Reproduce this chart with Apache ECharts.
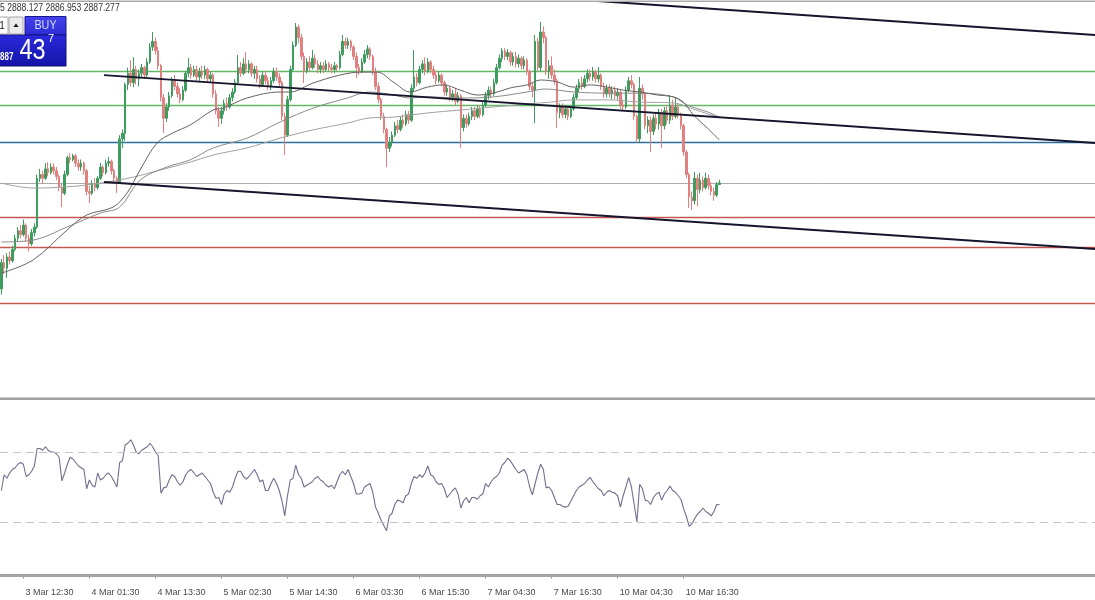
<!DOCTYPE html>
<html><head><meta charset="utf-8">
<script src="https://cdn.jsdelivr.net/npm/echarts@6.0.0/dist/echarts.min.js"></script>
<style>html,body{margin:0;padding:0;background:#fff}#c{width:1095px;height:600px}</style>
</head><body><div id="c"></div>
<script>
// ---------- DATA ----------
const tickLabels = ["3 Mar 12:30","4 Mar 01:30","4 Mar 13:30","5 Mar 02:30","5 Mar 14:30","6 Mar 03:30","6 Mar 15:30","7 Mar 04:30","7 Mar 16:30","10 Mar 04:30","10 Mar 16:30"];
const tickBars = [8,32,56,80,104,128,152,176,200,224,248];
const slotCount = 398; // visible bar slots incl. chart shift

// [open, close, low, high] per M30 bar
const ohlc = [
[2859.0,2866.0,2857.5,2867.0],[2866.0,2864.5,2863.0,2868.0],[2864.5,2867.5,2862.0,2868.5],[2867.5,2866.5,2865.5,2869.0],
[2866.5,2869.5,2866.0,2870.5],[2869.5,2872.5,2869.0,2873.5],[2872.5,2874.5,2871.5,2875.5],[2874.5,2873.5,2872.5,2876.0],
[2873.5,2876.0,2873.0,2877.5],[2876.0,2872.5,2871.5,2876.5],[2872.5,2871.0,2869.0,2873.5],[2871.0,2874.0,2870.5,2875.0],
[2874.0,2875.5,2873.0,2876.5],[2875.5,2888.5,2875.0,2889.5],[2888.5,2889.5,2887.5,2891.0],[2889.5,2888.5,2887.0,2890.5],
[2888.5,2891.0,2888.0,2892.5],[2891.0,2890.0,2889.0,2892.8],[2890.0,2891.5,2889.5,2892.5],[2891.5,2890.5,2889.5,2892.5],
[2890.5,2889.0,2888.0,2891.5],[2889.0,2886.0,2885.0,2889.5],[2886.0,2884.5,2880.8,2887.0],[2884.5,2889.5,2884.0,2890.5],
[2889.5,2894.0,2889.0,2894.5],[2894.0,2893.5,2892.5,2895.2],[2893.5,2894.5,2893.0,2895.0],[2894.5,2892.5,2891.5,2895.0],
[2892.5,2891.5,2890.5,2893.5],[2891.5,2892.5,2890.5,2893.5],[2892.5,2890.5,2889.5,2893.0],[2890.5,2885.0,2884.0,2891.0],
[2885.0,2884.5,2881.9,2886.5],[2884.5,2887.0,2884.0,2888.0],[2887.0,2886.0,2885.0,2888.5],[2886.0,2888.5,2885.5,2889.0],
[2888.5,2891.5,2888.0,2892.6],[2891.5,2890.0,2889.0,2892.0],[2890.0,2892.5,2889.5,2893.5],[2892.5,2893.0,2891.5,2894.2],
[2893.0,2890.5,2889.5,2893.5],[2890.5,2888.5,2887.5,2891.0],[2888.5,2887.5,2884.6,2889.0],[2887.5,2899.0,2887.0,2900.0],
[2899.0,2900.5,2896.6,2901.5],[2900.5,2913.5,2898.5,2914.0],[2913.5,2916.5,2912.0,2918.0],[2916.5,2914.0,2913.0,2920.0],
[2914.0,2917.5,2912.8,2920.8],[2917.5,2915.0,2913.5,2918.5],[2915.0,2916.5,2913.0,2917.5],[2916.5,2918.0,2915.5,2919.0],
[2918.0,2916.0,2915.0,2918.5],[2916.0,2919.5,2915.5,2920.5],[2919.5,2923.5,2919.0,2924.5],[2923.5,2925.0,2922.5,2927.5],
[2925.0,2922.5,2921.5,2926.0],[2922.5,2918.5,2917.5,2923.5],[2918.5,2910.0,2909.0,2919.0],[2910.0,2904.5,2900.6,2911.0],
[2904.5,2907.5,2903.5,2908.5],[2907.5,2910.5,2906.5,2911.5],[2910.5,2914.5,2910.0,2915.5],[2914.5,2913.0,2912.0,2916.0],
[2913.0,2911.0,2910.0,2914.0],[2911.0,2909.5,2908.5,2912.5],[2909.5,2912.0,2909.0,2913.0],[2912.0,2916.5,2911.5,2917.0],
[2916.5,2918.0,2915.5,2920.6],[2918.0,2916.0,2915.0,2919.0],[2916.0,2917.5,2915.5,2918.5],[2917.5,2915.5,2914.5,2918.5],
[2915.5,2917.0,2914.5,2918.0],[2917.0,2916.0,2915.0,2918.5],[2916.0,2917.5,2915.0,2918.5],[2917.5,2915.0,2914.0,2918.0],
[2915.0,2916.0,2914.0,2917.0],[2916.0,2911.0,2910.0,2916.5],[2911.0,2906.5,2905.5,2912.0],[2906.5,2904.5,2902.2,2907.5],
[2904.5,2906.5,2903.0,2907.5],[2906.5,2908.5,2905.5,2909.5],[2908.5,2907.5,2906.5,2910.0],[2907.5,2910.0,2907.0,2911.0],
[2910.0,2911.5,2909.0,2912.5],[2911.5,2914.0,2911.0,2915.0],[2914.0,2918.0,2913.5,2921.4],[2918.0,2916.5,2915.5,2919.5],
[2916.5,2919.0,2916.0,2920.5],[2919.0,2917.5,2916.5,2922.2],[2917.5,2919.0,2916.5,2920.0],[2919.0,2916.5,2915.5,2919.5],
[2916.5,2917.5,2915.0,2918.5],[2917.5,2915.0,2914.0,2918.5],[2915.0,2913.5,2912.5,2916.0],[2913.5,2916.0,2913.0,2917.0],
[2916.0,2914.5,2913.5,2917.0],[2914.5,2913.0,2912.0,2915.5],[2913.0,2914.5,2912.0,2915.5],[2914.5,2917.0,2914.0,2918.0],
[2917.0,2915.5,2914.5,2918.0],[2915.5,2914.0,2913.0,2916.5],[2914.0,2905.0,2904.0,2914.5],[2905.0,2900.0,2894.7,2906.0],
[2900.0,2909.5,2899.5,2910.5],[2909.5,2917.5,2909.0,2918.5],[2917.5,2924.0,2917.0,2925.0],[2924.0,2928.8,2923.5,2929.9],
[2928.8,2926.0,2924.5,2929.5],[2926.0,2921.0,2920.0,2927.0],[2921.0,2917.0,2913.9,2922.0],[2917.0,2919.5,2916.5,2920.5],
[2919.5,2918.0,2917.0,2921.0],[2918.0,2920.5,2917.5,2922.7],[2920.5,2919.0,2918.0,2921.5],[2919.0,2917.5,2916.5,2920.0],
[2917.5,2918.5,2916.5,2919.5],[2918.5,2917.5,2916.5,2919.5],[2917.5,2919.0,2917.0,2920.0],[2919.0,2918.0,2917.0,2919.5],
[2918.0,2917.5,2916.5,2919.0],[2917.5,2918.5,2916.5,2919.5],[2918.5,2918.0,2917.0,2919.0],[2918.0,2921.5,2917.5,2922.5],
[2921.5,2925.0,2921.0,2926.7],[2925.0,2924.0,2923.0,2926.0],[2924.0,2925.0,2923.0,2926.0],[2925.0,2923.5,2922.5,2925.5],
[2923.5,2921.0,2920.0,2924.0],[2921.0,2918.0,2915.2,2922.0],[2918.0,2917.0,2916.0,2919.0],[2917.0,2919.5,2916.5,2920.5],
[2919.5,2921.5,2919.0,2922.7],[2921.5,2923.0,2920.5,2924.0],[2923.0,2921.0,2920.0,2923.5],[2921.0,2917.0,2916.0,2921.5],
[2917.0,2913.0,2912.0,2918.0],[2913.0,2909.5,2908.5,2914.0],[2909.5,2905.0,2904.0,2910.0],[2905.0,2901.5,2900.5,2906.0],
[2901.5,2896.5,2891.5,2902.0],[2896.5,2898.0,2895.5,2899.5],[2898.0,2900.0,2897.0,2901.0],[2900.0,2902.5,2899.5,2903.5],
[2902.5,2901.5,2900.5,2904.0],[2901.5,2904.0,2901.0,2905.0],[2904.0,2903.0,2902.0,2905.5],[2903.0,2905.5,2902.5,2906.5],
[2905.5,2904.0,2903.0,2906.5],[2904.0,2912.5,2903.5,2913.5],[2912.5,2915.5,2911.5,2922.7],[2915.5,2914.0,2913.0,2916.5],
[2914.0,2917.5,2913.5,2918.5],[2917.5,2919.0,2916.5,2920.0],[2919.0,2917.0,2916.0,2920.8],[2917.0,2919.5,2916.5,2920.5],
[2919.5,2917.5,2916.5,2920.0],[2917.5,2916.0,2915.0,2918.5],[2916.0,2914.5,2913.5,2917.0],[2914.5,2916.0,2914.0,2917.0],
[2916.0,2914.0,2913.0,2916.5],[2914.0,2911.5,2910.5,2914.5],[2911.5,2912.5,2910.5,2913.5],[2912.5,2910.0,2909.0,2913.0],
[2910.0,2911.0,2909.0,2912.0],[2911.0,2909.0,2908.0,2912.5],[2909.0,2910.5,2908.5,2911.5],[2910.5,2902.0,2896.6,2911.0],
[2902.0,2904.5,2901.0,2905.5],[2904.5,2903.0,2902.0,2905.5],[2903.0,2905.0,2902.5,2906.0],[2905.0,2906.5,2904.0,2907.5],
[2906.5,2905.0,2904.0,2907.5],[2905.0,2907.0,2904.5,2908.0],[2907.0,2905.5,2904.5,2908.0],[2905.5,2908.0,2905.0,2909.0],
[2908.0,2910.5,2907.5,2911.5],[2910.5,2912.0,2909.5,2913.0],[2912.0,2911.0,2910.0,2913.0],[2911.0,2914.0,2910.5,2915.0],
[2914.0,2918.0,2913.5,2919.0],[2918.0,2920.5,2917.5,2921.5],[2920.5,2922.5,2919.5,2923.2],[2922.5,2921.0,2920.0,2923.2],
[2921.0,2922.0,2920.0,2923.0],[2922.0,2919.5,2918.5,2922.5],[2919.5,2921.0,2918.5,2922.0],[2921.0,2919.0,2918.0,2922.2],
[2919.0,2920.5,2918.0,2921.5],[2920.5,2918.5,2917.5,2921.0],[2918.5,2920.0,2917.5,2921.0],[2920.0,2917.0,2916.0,2920.5],
[2917.0,2913.0,2912.0,2917.5],[2913.0,2912.0,2910.0,2914.0],[2912.0,2925.0,2903.2,2926.7],[2925.0,2918.0,2917.0,2926.0],
[2918.0,2927.5,2917.0,2930.2],[2927.5,2926.0,2924.5,2929.0],[2926.0,2917.0,2916.0,2926.5],[2917.0,2918.5,2915.0,2920.0],
[2918.5,2916.0,2915.0,2921.0],[2916.0,2914.5,2913.5,2917.5],[2914.5,2906.0,2901.9,2915.0],[2906.0,2907.5,2904.5,2908.5],
[2907.5,2905.5,2904.5,2908.5],[2905.5,2907.0,2904.5,2908.0],[2907.0,2905.0,2904.0,2908.0],[2905.0,2907.0,2904.5,2908.0],
[2907.0,2910.0,2906.5,2911.0],[2910.0,2912.5,2909.5,2913.5],[2912.5,2914.0,2911.5,2915.0],[2914.0,2913.0,2912.0,2915.5],
[2913.0,2915.0,2912.5,2916.0],[2915.0,2916.5,2914.0,2917.5],[2916.5,2915.5,2914.5,2917.5],[2915.5,2917.0,2914.5,2918.2],
[2917.0,2915.0,2914.0,2917.5],[2915.0,2916.0,2914.0,2918.2],[2916.0,2913.0,2912.0,2916.5],[2913.0,2911.0,2910.0,2914.0],
[2911.0,2912.5,2910.0,2913.5],[2912.5,2911.0,2910.0,2913.5],[2911.0,2912.0,2909.5,2913.0],[2912.0,2910.5,2909.5,2913.0],
[2910.5,2911.5,2909.5,2912.5],[2911.5,2908.0,2907.0,2912.0],[2908.0,2907.5,2906.5,2909.5],[2907.5,2912.0,2907.0,2913.0],
[2912.0,2914.5,2911.5,2915.5],[2914.5,2913.5,2912.5,2916.0],[2913.5,2905.0,2904.0,2914.0],[2905.0,2899.0,2898.0,2905.5],
[2899.0,2912.5,2898.0,2915.5],[2912.5,2911.0,2909.5,2913.5],[2911.0,2902.5,2901.5,2911.5],[2902.5,2904.0,2900.5,2905.0],
[2904.0,2901.0,2895.5,2905.0],[2901.0,2904.5,2900.0,2905.5],[2904.5,2903.0,2901.5,2906.0],[2903.0,2906.0,2901.5,2907.0],
[2906.0,2902.5,2896.5,2907.0],[2902.5,2906.5,2901.5,2907.5],[2906.5,2904.0,2903.0,2908.0],[2904.0,2908.0,2903.0,2910.7],
[2908.0,2905.0,2904.0,2909.5],[2905.0,2907.5,2904.5,2910.0],[2907.5,2905.5,2904.5,2908.5],[2905.5,2902.5,2901.5,2906.0],
[2902.5,2895.5,2894.5,2903.0],[2895.5,2889.5,2888.5,2896.0],[2889.5,2883.5,2880.6,2890.0],[2883.5,2882.5,2880.0,2885.0],
[2882.5,2888.5,2881.5,2890.2],[2888.5,2885.5,2881.0,2889.5],[2885.5,2888.0,2884.5,2890.0],[2888.0,2886.0,2885.0,2889.0],
[2886.0,2888.5,2885.5,2890.0],[2888.5,2886.5,2885.5,2889.5],[2886.5,2885.0,2884.0,2887.5],[2885.0,2884.0,2882.5,2886.0],
[2884.0,2886.8,2883.5,2887.5],[2886.8,2887.277,2886.953,2888.127]
];

// moving averages: [bar index, price]
const maFast = [[0,2863.2],[11.5,2866.7],[23.9,2874.7],[31,2878.7],[40.6,2880.8],[45.7,2884.6],[50.4,2890.7],[56.6,2897.9],[62.4,2900.6],[68.6,2902.7],[77,2906.7],[80.6,2907.2],[89.3,2909.9],[101.3,2911.5],[105,2911.5],[113.3,2913.9],[123,2916.0],[130.4,2916.8],[136.6,2916.8],[142.4,2914.2],[148.6,2911.5],[154.8,2912.8],[160.6,2913.4],[166.8,2912.0],[173,2910.7],[178.8,2911.2],[185,2912.6],[191.1,2913.4],[195.9,2914.7],[202,2914.2],[207.9,2912.8],[214,2913.4],[220.2,2912.8],[226,2912.0],[232.2,2911.5],[238.4,2910.7],[244.2,2910.2],[247.9,2908.8],[251.5,2905.4],[256.6,2901.9],[261,2898.7]];
const maMid = [[0,2871.5],[11.5,2872.0],[23.9,2875.5],[35.9,2879.2],[43,2880.8],[50.4,2888.0],[60.2,2891.5],[68.6,2893.4],[77,2896.6],[89.3,2899.2],[101.3,2903.5],[113.3,2907.2],[125.7,2909.9],[134,2911.5],[142.4,2910.7],[148.6,2909.9],[154.8,2910.2],[166.8,2909.9],[178.8,2910.2],[191.1,2911.5],[197.6,2912.3],[207.9,2911.5],[220.2,2911.2],[232.2,2911.2],[244.2,2910.2],[249.3,2908.0],[256.6,2906.2],[261,2904.8]];
const maSlow = [[0,2887.2],[11.5,2885.9],[23.9,2886.2],[35.9,2887.2],[47.9,2888.8],[57.7,2890.7],[68.6,2892.8],[77,2894.7],[89.3,2896.6],[101.3,2899.2],[113.3,2901.4],[125.7,2903.2],[134,2904.6],[142.4,2904.8],[154.8,2905.9],[166.8,2906.7],[178.8,2907.5],[191.1,2908.3],[199.5,2908.8],[207.9,2909.4],[220.2,2909.4],[232.2,2908.8],[244.2,2908.6],[250.4,2907.2],[261,2904.6]];

// trend channel: [bar index, price]
const trendTop = [[200,2936.6],[397.5,2926.7]];
const trendUpper = [[37.3,2916.0],[397.5,2897.9]];
const trendLower = [[37.3,2887.5],[397.5,2869.6]];

// horizontal levels
const greenLevels = [2917.1, 2908.0];
const blueLevels = [2898.2];
const redLevels = [2878.2, 2870.2, 2855.2];
const bidPrice = 2887.277;

// RSI per bar
const rsi = [48,57,55,58,60,61,63,64,63,56,57,59,62,72,72,71,73,71,70,70,69,67,53.5,58,63,67,66,64,62,61,
60,49,54,51,50,58,54,55,57,58,56,53,50,64,65,74,75,77,74,70,69,71,72,73,75,73,70,68,46.5,49.5,
50,54,57,56,53,51,53,57,59,60,58,56,57,58,56,54,52,47,43.6,44,40,46,48,47,50,55,59,59,56,54.5,
56,58,60,57,53,54,48,48,52,55,52,48,42,33.5,45,54,55,62.5,57,55,50,51,52,53,55,56,54,53,51,50,
51,49,53,57,59,57,60,56,52,46,46,46.5,50,51,52,47,38.5,35,31,28,25,33.5,35,40,42.5,42,41,45,46,52,
56,55,57,55.5,58,62,57,56,53,51.5,52,49,44,46,48,49.5,46,38,42,44,41,44,44,43,45,46,52,50,53,55,
56,58,62.5,64,66.5,65,62.5,60,58,59,60,57,50,45.5,52,58,63,60,49.5,50,48,44,40,40,39,38.5,39,42,45,48,
50,51,52,54,55.5,53,51,49,48,45,47,48,47,46.5,45,38.5,45,50,55.5,50,40,30,51.5,49,42.5,42,40,44,46,47,
42.5,46,48,50.5,48,47,45,43,37.5,33,27.5,29,32,34.5,36,38,36,35,33.5,36,40,40];
const rsiLevels = [70, 30];

const headerText = "5 2888.127 2886.953 2887.277";
const buyBig = "43", buySmall = "887", buySup = "7";

// ---------- CHART ----------
const sans = "'Liberation Sans',Arial,sans-serif";
const slots = Array.from({length: slotCount}, (_, i) => {
  const k = tickBars.indexOf(i); return k >= 0 ? tickLabels[k] : '';
});
const isTick = (i) => tickBars.indexOf(i) >= 0;

const levelLines = [];
greenLevels.forEach(v => levelLines.push({yAxis: v, lineStyle: {color: '#62b865', width: 1.4, type: 'solid'}}));
blueLevels.forEach(v => levelLines.push({yAxis: v, lineStyle: {color: '#2a6f9c', width: 1.4, type: 'solid'}}));
redLevels.forEach(v => levelLines.push({yAxis: v, lineStyle: {color: '#c4574f', width: 1.3, type: 'solid'}}));
levelLines.push({yAxis: bidPrice, lineStyle: {color: '#ababab', width: 1, type: 'solid'}});

const chart = echarts.init(document.getElementById('c'), null, {renderer: 'canvas', width: 1095, height: 600});
const lineS = (data, color, width, z, smooth) => ({
  type: 'line', xAxisIndex: 1, yAxisIndex: 0, data, showSymbol: false, symbol: 'none',
  smooth: smooth || false, clip: true, silent: true, z,
  lineStyle: {color, width}, animation: false
});

chart.setOption({
  backgroundColor: '#ffffff',
  animation: false,
  grid: [
    {left: 0, right: 0, top: 2, height: 396, containLabel: false, outerBoundsMode: 'none'},
    {left: 0, right: 0, top: 399.5, height: 175, containLabel: false, outerBoundsMode: 'none'}
  ],
  xAxis: [
    {type: 'category', gridIndex: 0, data: slots, boundaryGap: true, show: false},
    {type: 'value', gridIndex: 0, min: -0.5, max: slotCount - 0.5, show: false},
    {type: 'category', gridIndex: 1, data: slots, boundaryGap: true, position: 'bottom', offset: 8.5,
      axisLine: {show: true, lineStyle: {color: '#8a8a8a', width: 1}},
      axisTick: {show: true, alignWithLabel: true, length: 4, interval: (i) => isTick(i), lineStyle: {color: '#8a8a8a'}},
      axisLabel: {show: true, interval: (i) => isTick(i), align: 'left', margin: 5, color: '#4a4a4a',
        fontSize: 9, fontFamily: sans, padding: [0, 0, 0, 2], hideOverlap: false},
      splitLine: {show: false}},
    {type: 'value', gridIndex: 1, min: -0.5, max: slotCount - 0.5, show: false}
  ],
  yAxis: [
    {type: 'value', gridIndex: 0, min: 2829.9, max: 2935.5, scale: true, show: false, splitLine: {show: false}},
    {type: 'value', gridIndex: 1, min: 0, max: 100, show: false, splitLine: {show: false}}
  ],
  series: [
    {
      type: 'candlestick', xAxisIndex: 0, yAxisIndex: 0, data: ohlc, barWidth: 2, z: 3, silent: true,
      itemStyle: {color: '#3e9c5e', color0: '#e2807f', borderColor: '#3e9c5e', borderColor0: '#e2807f', borderWidth: 1},
      markLine: {silent: true, symbol: ['none', 'none'], label: {show: false}, animation: false, z: 2, data: levelLines}
    },
    lineS(maSlow, '#a2a2a2', 1, 4, 0.35),
    lineS(maMid, '#8a8a8a', 1, 4, 0.35),
    lineS(maFast, '#6a6262', 1, 4, 0.35),
    lineS(trendTop, '#15152e', 2, 5),
    lineS(trendUpper, '#15152e', 2, 5),
    lineS(trendLower, '#15152e', 2, 5),
    {
      type: 'line', xAxisIndex: 2, yAxisIndex: 1, data: rsi, showSymbol: false, symbol: 'none', silent: true,
      lineStyle: {color: '#6f6f8e', width: 1.1}, z: 3,
      markLine: {silent: true, symbol: ['none', 'none'], label: {show: false}, animation: false,
        lineStyle: {color: '#c4c4cc', width: 1, type: [8, 5]},
        data: rsiLevels.map(v => ({yAxis: v}))}
    }
  ],
  graphic: {elements: [
    {type: 'rect', shape: {x: 0, y: 0.5, width: 1095, height: 1.5}, style: {fill: '#a9a9a9'}, silent: true, z: 10},
    {type: 'rect', shape: {x: 0, y: 397.5, width: 1095, height: 2.5}, style: {fill: '#a0a0a0'}, silent: true, z: 10},
    {type: 'rect', shape: {x: 0, y: 574, width: 1095, height: 3}, style: {fill: '#a3a3a3'}, silent: true, z: 10},
    {type: 'text', x: 0, y: 8.5, scaleX: 0.82, silent: true, z: 10,
      style: {text: headerText, fontSize: 10.5, fontFamily: sans, fill: '#333', align: 'left', verticalAlign: 'middle'}},
    {type: 'rect', shape: {x: -3, y: 17, width: 11, height: 17}, style: {fill: '#ffffff', stroke: '#a8a8a8', lineWidth: 1}, silent: true, z: 10},
    {type: 'text', x: 2, y: 26, silent: true, z: 11, style: {text: '1', fontSize: 10, fontFamily: sans, fill: '#222', align: 'center', verticalAlign: 'middle'}},
    {type: 'rect', shape: {x: 9, y: 17, width: 14, height: 17}, style: {fill: '#ebebeb', stroke: '#a8a8a8', lineWidth: 1}, silent: true, z: 10},
    {type: 'polygon', shape: {points: [[13.5, 27], [18.5, 27], [16, 23.5]]}, style: {fill: '#111'}, silent: true, z: 11},
    {type: 'rect', shape: {x: 25, y: 16.5, width: 41, height: 18.5},
      style: {fill: new echarts.graphic.LinearGradient(0, 0, 0, 1, [{offset: 0, color: '#4242ee'}, {offset: 1, color: '#2c2cd4'}]), stroke: '#18188c', lineWidth: 1}, silent: true, z: 10},
    {type: 'text', x: 45.5, y: 26, scaleX: 0.9, silent: true, z: 11, style: {text: 'BUY', fontSize: 12, fontFamily: sans, fill: '#d2dbff', align: 'center', verticalAlign: 'middle'}},
    {type: 'rect', shape: {x: -2, y: 35, width: 68, height: 31},
      style: {fill: new echarts.graphic.LinearGradient(0, 0, 0, 1, [{offset: 0, color: '#2a2ade'}, {offset: 1, color: '#1414a6'}]), stroke: '#10107e', lineWidth: 1}, silent: true, z: 10},
    {type: 'text', x: 0, y: 57, scaleX: 0.8, silent: true, z: 11, style: {text: buySmall, fontSize: 10, fontWeight: 'bold', fontFamily: sans, fill: '#ffffff', align: 'left', verticalAlign: 'middle'}},
    {type: 'text', x: 32.5, y: 51, scaleX: 0.78, silent: true, z: 11, style: {text: buyBig, fontSize: 30, fontFamily: sans, fill: '#ffffff', align: 'center', verticalAlign: 'middle'}},
    {type: 'text', x: 51, y: 39, silent: true, z: 11, style: {text: buySup, fontSize: 11, fontFamily: sans, fill: '#ffffff', align: 'center', verticalAlign: 'middle'}}
  ]}
});
</script>
</body></html>
